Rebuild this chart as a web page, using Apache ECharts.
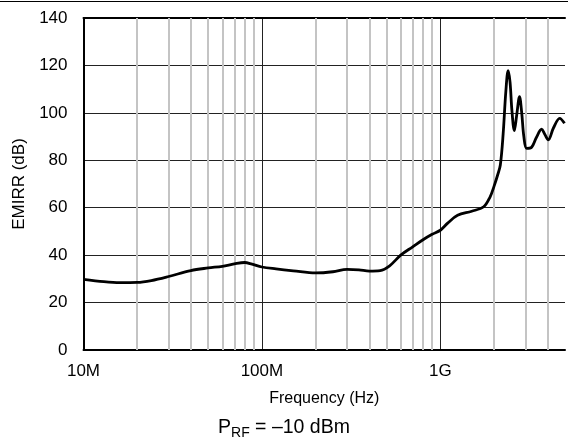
<!DOCTYPE html>
<html>
<head>
<meta charset="utf-8">
<script src="https://cdn.jsdelivr.net/npm/echarts@6/dist/echarts.min.js"></script>
<style>html,body{margin:0;padding:0;background:#fff}#c{width:568px;height:445px}</style>
</head>
<body>
<div id="c"></div>
<script>
// Frequency (Hz) and EMIRR (dB)
const freqHz = [1e7,1.3e7,1.6e7,2e7,2.4e7,3e7,4e7,5e7,6e7,7e7,8e7,8.8e7,1e8,1.2e8,1.5e8,2e8,2.5e8,3e8,3.5e8,4e8,4.6e8,5.2e8,6e8,7e8,8e8,9e8,1e9,1.1e9,1.25e9,1.5e9,1.75e9,1.9e9,2.0e9,2.1e9,2.17e9,2.25e9,2.33e9,2.40e9,2.46e9,2.52e9,2.60e9,2.68e9,2.78e9,2.86e9,2.94e9,3.05e9,3.25e9,3.45e9,3.7e9,3.85e9,4.03e9,4.3e9,4.67e9,4.97e9];
const emirrDb = [29.8,28.8,28.4,28.5,29.3,31.0,33.5,34.6,35.3,36.3,36.9,36.2,35.0,34.2,33.4,32.5,33.0,34.0,33.8,33.3,33.5,35.5,40.0,43.5,46.5,48.8,50.5,53.5,56.8,58.5,60.4,64.5,69.0,74.0,78.0,91.0,109.0,117.8,113.0,101.0,92.5,99.0,106.8,100.0,90.0,85.0,85.5,89.5,93.1,91.0,88.6,93.5,97.7,95.6];
const minorGridHz = [2e7,3e7,4e7,5e7,6e7,7e7,8e7,9e7,2e8,3e8,4e8,5e8,6e8,7e8,8e8,9e8,2e9,3e9,4e9];
const xTickLabels = {1e7:'10M',1e8:'100M',1e9:'1G'};
const yMin = 0, yMax = 140, yStep = 20;
const xMin = 1e7, xMax = 5e9;

const FONT = 'Liberation Sans, Arial, Helvetica, sans-serif';
const chart = echarts.init(document.getElementById('c'), null, {renderer:'canvas'});
chart.setOption({
  animation: false,
  backgroundColor: '#fff',
  title: {
    text: '{p|P}{s|RF}{p| = \u201310 dBm}',
    left: 'center',
    top: 413,
    textStyle: {
      fontFamily: FONT, fontWeight: 'normal',
      rich: {
        p: {fontFamily: FONT, fontWeight: 'normal', fontSize: 19.5, color: '#000', lineHeight: 22, verticalAlign: 'top'},
        s: {fontFamily: FONT, fontWeight: 'normal', fontSize: 14, color: '#000', lineHeight: 22, verticalAlign: 'bottom'}
      }
    }
  },
  grid: {left: 83.5, top: 18, right: 0, bottom: 95, containLabel: false},
  xAxis: [{
    type: 'log', logBase: 10, min: xMin, max: xMax, z: 3,
    name: 'Frequency (Hz)', nameLocation: 'middle', nameGap: 41,
    nameTextStyle: {fontFamily: FONT, fontSize: 16, color: '#000'},
    axisLine: {show: true, onZero: false, lineStyle: {color: '#000', width: 2}},
    axisTick: {show: false},
    axisLabel: {fontFamily: FONT, fontSize: 17, color: '#000', margin: 13,
      formatter: v => xTickLabels[Math.round(v)] || ''},
    splitLine: {show: true, showMinLine: false, showMaxLine: false, lineStyle: {color: '#222', width: 1}},
    minorTick: {show: false}, minorSplitLine: {show: false}
  }, {
    type: 'log', logBase: 10, min: xMin, max: xMax, position: 'top', z: 3,
    axisLine: {show: true, onZero: false, lineStyle: {color: '#000', width: 2}},
    axisTick: {show: false}, axisLabel: {show: false}, splitLine: {show: false}
  }],
  yAxis: {
    type: 'value', min: yMin, max: yMax, interval: yStep, z: 3,
    name: 'EMIRR (dB)', nameLocation: 'middle', nameGap: 55, nameRotate: 90,
    nameTextStyle: {fontFamily: FONT, fontSize: 17, color: '#000'},
    axisLine: {show: true, lineStyle: {color: '#000', width: 2}},
    axisTick: {show: false},
    axisLabel: {fontFamily: FONT, fontSize: 17, color: '#000', margin: 16},
    splitLine: {show: true, showMinLine: false, showMaxLine: false, lineStyle: {color: '#222', width: 1}}
  },
  graphic: [{
    type: 'line', z: 10,
    shape: {x1: 0, y1: 1.5, x2: 568, y2: 1.5},
    style: {stroke: '#000', lineWidth: 1}
  }],
  series: [{
    type: 'line', z: 1, data: [], silent: true,
    markLine: {
      silent: true, symbol: 'none', animation: false,
      label: {show: false},
      lineStyle: {color: '#c4c4c4', width: 2, type: 'solid'},
      emphasis: {disabled: true},
      data: minorGridHz.map(v => ({xAxis: v}))
    }
  }, {
    type: 'line', z: 5,
    data: freqHz.map((f, i) => [f, emirrDb[i]]),
    showSymbol: false, symbol: 'none',
    smooth: 0.35,
    lineStyle: {color: '#000', width: 2.8},
    clip: true
  }]
});
</script>
</body>
</html>
